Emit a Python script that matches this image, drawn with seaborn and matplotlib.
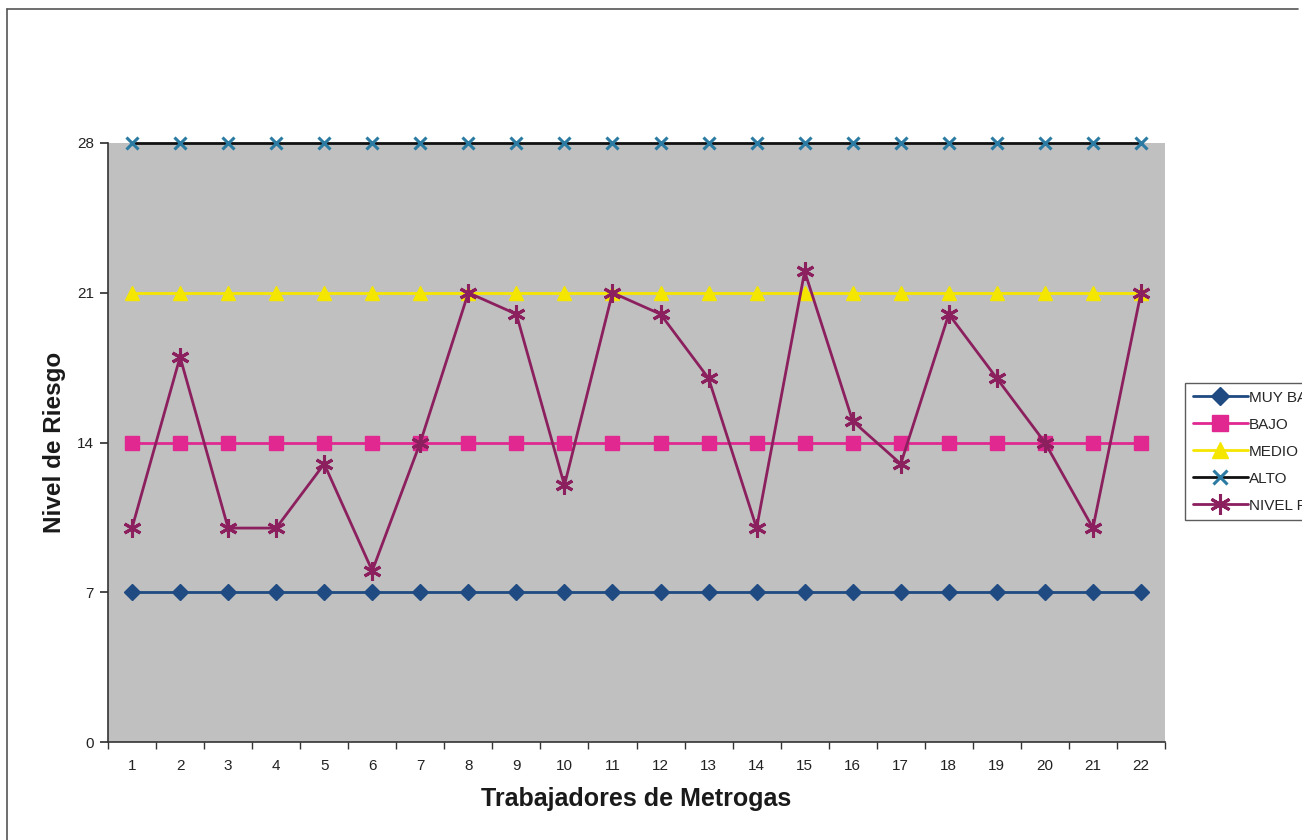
import matplotlib
matplotlib.use("Agg")
import matplotlib.pyplot as plt
import seaborn as sns
import pandas as pd
from matplotlib.lines import Line2D
from matplotlib.patches import Rectangle

# Data
trabajadores = list(range(1, 23))
muy_bajo = [7] * 22
bajo = [14] * 22
medio = [21] * 22
alto = [28] * 22
nivel_riesgo = [10, 18, 10, 10, 13, 8, 14, 21, 20, 12, 21,
                20, 17, 10, 22, 15, 13, 20, 17, 14, 10, 21]

series_names = ["MUY BAJO", "BAJO", "MEDIO", "ALTO", "NIVEL RIESGO"]
series_values = [muy_bajo, bajo, medio, alto, nivel_riesgo]
y_ticks = [0, 7, 14, 21, 28]

sns.set_theme(style="white")
plt.rcParams["font.family"] = ["Liberation Sans", "DejaVu Sans"]

fig = plt.figure(figsize=(13.13, 8.4), dpi=100)
ax = fig.add_axes([108 / 1313, 1 - 742 / 840, (1165 - 108) / 1313, (742 - 143) / 840])
ax.set_facecolor("#c0c0c0")

styles = {
    "MUY BAJO": dict(color="#1f4a82", marker="D", ms=8, mfc="#1f4a82", mec="#1f4a82"),
    "BAJO": dict(color="#e02890", marker="s", ms=10, mfc="#e02890", mec="#e02890"),
    "MEDIO": dict(color="#f5e600", marker="^", ms=10, mfc="#f5e600", mec="#f5e600"),
    "ALTO": dict(color="#111111", marker="x", ms=9, mfc="#2b7ba3", mec="#2b7ba3"),
    "NIVEL RIESGO": dict(color="#8c1f5e", marker=(6, 2, 0), ms=13, mfc="#8c1f5e", mec="#8c1f5e"),
}

for name, vals in zip(series_names, series_values):
    st = styles[name]
    df = pd.DataFrame({"trabajador": trabajadores, "nivel": vals})
    sns.lineplot(data=df, x="trabajador", y="nivel", ax=ax, color=st["color"],
                 linewidth=2.0, marker=st["marker"], markersize=st["ms"],
                 markerfacecolor=st["mfc"], markeredgecolor=st["mec"],
                 markeredgewidth=2.2 if name in ("ALTO", "NIVEL RIESGO") else 1,
                 label=name, clip_on=False, zorder=3)

ax.set_xlim(0.5, 22.5)
ax.set_ylim(0, 28)
ax.set_yticks(y_ticks)
ax.set_xticks(trabajadores)
ax.set_xticklabels([str(t) for t in trabajadores])
ax.set_xticks([t + 0.5 for t in range(0, 23)], minor=True)
ax.tick_params(axis="x", which="major", length=0, pad=12, labelsize=11, colors="#222222")
ax.tick_params(axis="x", which="minor", length=5, direction="out", color="#333333", bottom=True)
ax.tick_params(axis="y", which="major", length=6, direction="out", left=True,
               color="#333333", labelsize=11, labelcolor="#222222", pad=4)

for side in ["left", "bottom"]:
    ax.spines[side].set_color("#333333")
    ax.spines[side].set_linewidth(1.2)
for side in ["top", "right"]:
    ax.spines[side].set_visible(False)

ax.set_xlabel("Trabajadores de Metrogas", fontsize=18, fontweight="bold", labelpad=10, color="#1a1a1a")
ax.set_ylabel("Nivel de Riesgo", fontsize=17.5, fontweight="bold", labelpad=8, color="#1a1a1a")

handles, labels = ax.get_legend_handles_labels()
if ax.get_legend():
    ax.get_legend().remove()
leg = fig.legend(handles, labels, loc="upper left", bbox_to_anchor=(1185 / 1313, 1 - 383 / 840),
                 frameon=True, fancybox=False, edgecolor="#333333", fontsize=11,
                 handlelength=3.6, labelspacing=0.85, borderpad=0.5, borderaxespad=0,
                 handletextpad=0.1, markerscale=1.15)
leg.get_frame().set_linewidth(1.0)

# The chart area ends a little short of the right edge of the canvas
fig.add_artist(Rectangle((1302 / 1313, 0), 11 / 1313, 1, transform=fig.transFigure,
                         facecolor="white", edgecolor="none", zorder=20))

# Outer chart border (left and top edges)
fig.add_artist(Line2D([7 / 1313, 7 / 1313], [0, 1 - 9 / 840], transform=fig.transFigure,
                      color="#555555", linewidth=1.2))
fig.add_artist(Line2D([7 / 1313, 1298 / 1313], [1 - 9 / 840, 1 - 9 / 840], transform=fig.transFigure,
                      color="#555555", linewidth=1.2))

fig.savefig("out.png", dpi=100)
